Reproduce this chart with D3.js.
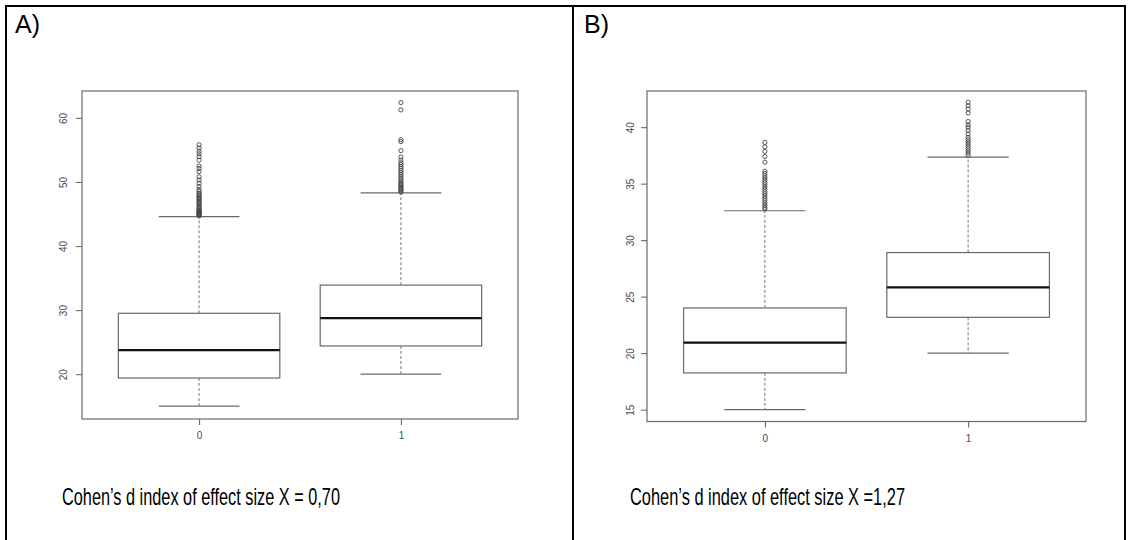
<!DOCTYPE html>
<html>
<head>
<meta charset="utf-8">
<script src="https://cdn.jsdelivr.net/npm/d3@7"></script>
<style>
  html, body { margin: 0; padding: 0; background: #fff; }
  svg { display: block; }
</style>
</head>
<body>
<svg id="chart" width="1130" height="540"></svg>
<script>
// ---------- Data ----------
const groups = ["0", "1"];

// Panel A
const aLowerWhisker = [15.0, 20.0];
const aQ1 = [19.4, 24.4];
const aMedian = [23.75, 28.75];
const aQ3 = [29.5, 33.9];
const aUpperWhisker = [44.6, 48.3];
const aOutliers0 = [44.7, 44.8, 44.9, 45.0, 45.1, 45.2, 45.3, 45.4, 45.5, 45.6, 45.8, 46.0, 46.2, 46.4, 46.6,
  46.8, 47.0, 47.2, 47.4, 47.6, 47.8, 48.0, 48.2, 48.5, 48.8, 49.3, 49.8, 50.3, 50.8, 51.6, 52.1, 52.5,
  53.4, 53.95, 54.4, 54.8, 55.3, 55.8];
const aOutliers1 = [48.4, 48.6, 48.8, 49.0, 49.2, 49.4, 49.6, 49.8, 50.0, 50.3, 50.6, 50.9, 51.2, 51.5, 51.8,
  52.1, 52.4, 52.7, 53.0, 53.4, 53.9, 54.9, 56.3, 56.6, 61.25, 62.4];
const aTicks = [20, 30, 40, 50, 60];
const aDomain = [13.0, 64.2];
const aCaption = "Cohen’s d index of effect size X = 0,70";

// Panel B
const bLowerWhisker = [15.0, 20.0];
const bQ1 = [18.25, 23.17];
const bMedian = [20.93, 25.82];
const bQ3 = [24.0, 28.9];
const bUpperWhisker = [32.6, 37.35];
const bOutliers0 = [32.75, 32.9, 33.1, 33.3, 33.5, 33.7, 33.9, 34.1, 34.3, 34.5, 34.7, 34.9, 35.1, 35.3, 35.5,
  35.7, 35.9, 36.1, 36.9, 37.4, 37.85, 38.25, 38.65];
const bOutliers1 = [37.5, 37.7, 37.9, 38.1, 38.3, 38.5, 38.7, 38.9, 39.1, 39.4, 39.7, 40.0, 40.2, 40.5,
  41.25, 41.6, 41.9, 42.2];
const bTicks = [15, 20, 25, 30, 35, 40];
const bDomain = [13.95, 43.2];
const bCaption = "Cohen’s d index of effect size X =1,27";

const panelLabels = ["A)", "B)"];

// ---------- Drawing ----------
const svg = d3.select("#chart");
const FONT = "'Liberation Sans', Arial, Helvetica, sans-serif";
const AX = "#6a6a6a";

// table frame
const frame = svg.append("g").attr("stroke", "#000").attr("stroke-width", 2).attr("fill", "none");
frame.append("line").attr("x1", 5).attr("x2", 1126).attr("y1", 6).attr("y2", 6);
frame.append("line").attr("x1", 6).attr("x2", 6).attr("y1", 5).attr("y2", 540);
frame.append("line").attr("x1", 573).attr("x2", 573).attr("y1", 5).attr("y2", 540);
frame.append("line").attr("x1", 1125).attr("x2", 1125).attr("y1", 5).attr("y2", 540);

function drawPanel(cfg) {
  const g = svg.append("g");
  const x = d3.scaleLinear().domain([0.42, 2.58]).range([cfg.left, cfg.right]);
  const y = d3.scaleLinear().domain(cfg.domain).range([cfg.bottom, cfg.top]);
  const boxHalf = (x(1.4) - x(1));
  const capHalf = boxHalf / 2;

  // plot box
  g.append("rect")
    .attr("x", cfg.left).attr("y", cfg.top)
    .attr("width", cfg.right - cfg.left).attr("height", cfg.bottom - cfg.top)
    .attr("fill", "none").attr("stroke", AX).attr("stroke-width", 1.2);

  // y axis
  const yAxis = d3.axisLeft(y).tickValues(cfg.ticks).tickSize(6).tickFormat(d3.format("d"));
  const ya = g.append("g").attr("transform", `translate(${cfg.left},0)`).call(yAxis);
  ya.select(".domain").remove();
  ya.selectAll(".tick line").attr("stroke", AX).attr("stroke-width", 1.1);
  ya.selectAll(".tick text")
    .attr("fill", "#4a4a4a").attr("font-family", FONT).attr("font-size", 10)
    .attr("text-anchor", "middle")
    .attr("x", 0).attr("y", 0).attr("dy", "0.35em")
    .attr("transform", `translate(${cfg.yLabelX - cfg.left},0) rotate(-90)`);

  // x axis
  const xAxis = d3.axisBottom(x).tickValues([1, 2]).tickSize(6).tickPadding(7)
    .tickFormat((d, i) => groups[i]);
  const xa = g.append("g").attr("transform", `translate(0,${cfg.bottom})`).call(xAxis);
  xa.select(".domain").remove();
  xa.selectAll(".tick line").attr("stroke", AX).attr("stroke-width", 1.1);
  xa.selectAll(".tick text").attr("fill", "#4a4a4a").attr("font-family", FONT).attr("font-size", 10);

  groups.forEach((grp, i) => {
    const cx = x(i + 1);
    const bg = g.append("g");
    // whiskers (dashed)
    bg.append("line").attr("x1", cx).attr("x2", cx)
      .attr("y1", y(cfg.q3[i])).attr("y2", y(cfg.hi[i]))
      .attr("stroke", "#777").attr("stroke-width", 1).attr("stroke-dasharray", "3,2");
    bg.append("line").attr("x1", cx).attr("x2", cx)
      .attr("y1", y(cfg.q1[i])).attr("y2", y(cfg.lo[i]))
      .attr("stroke", "#777").attr("stroke-width", 1).attr("stroke-dasharray", "3,2");
    // caps
    [cfg.hi[i], cfg.lo[i]].forEach(v => {
      bg.append("line").attr("x1", cx - capHalf).attr("x2", cx + capHalf)
        .attr("y1", y(v)).attr("y2", y(v))
        .attr("stroke", AX).attr("stroke-width", 1.2);
    });
    // box
    bg.append("rect")
      .attr("x", cx - boxHalf).attr("width", 2 * boxHalf)
      .attr("y", y(cfg.q3[i])).attr("height", y(cfg.q1[i]) - y(cfg.q3[i]))
      .attr("fill", "#fff").attr("stroke", AX).attr("stroke-width", 1.2);
    // median
    bg.append("line").attr("x1", cx - boxHalf).attr("x2", cx + boxHalf)
      .attr("y1", y(cfg.med[i])).attr("y2", y(cfg.med[i]))
      .attr("stroke", "#111").attr("stroke-width", 2.4);
    // outliers
    bg.selectAll("circle.out").data(cfg.outliers[i]).enter().append("circle")
      .attr("class", "out")
      .attr("cx", cx).attr("cy", d => y(d)).attr("r", 2.1)
      .attr("fill", "none").attr("stroke", "#444").attr("stroke-width", 0.9);
  });

  // panel label
  svg.append("text").attr("x", cfg.labelX).attr("y", 33)
    .attr("font-family", FONT).attr("font-size", 25).attr("fill", "#000")
    .text(cfg.label);

  // caption
  svg.append("text").attr("x", cfg.capX).attr("y", 505)
    .attr("font-family", FONT).attr("font-size", 24).attr("fill", "#000")
    .attr("textLength", cfg.capW).attr("lengthAdjust", "spacingAndGlyphs")
    .text(cfg.caption);
}

drawPanel({
  left: 82, right: 518, top: 91, bottom: 419, yLabelX: 63.5,
  domain: aDomain, ticks: aTicks,
  lo: aLowerWhisker, q1: aQ1, med: aMedian, q3: aQ3, hi: aUpperWhisker,
  outliers: [aOutliers0, aOutliers1],
  label: panelLabels[0], labelX: 15,
  caption: aCaption, capX: 62, capW: 278
});

drawPanel({
  left: 647, right: 1086, top: 91, bottom: 421.5, yLabelX: 630.5,
  domain: bDomain, ticks: bTicks,
  lo: bLowerWhisker, q1: bQ1, med: bMedian, q3: bQ3, hi: bUpperWhisker,
  outliers: [bOutliers0, bOutliers1],
  label: panelLabels[1], labelX: 584,
  caption: bCaption, capX: 630, capW: 275
});
</script>
</body>
</html>
